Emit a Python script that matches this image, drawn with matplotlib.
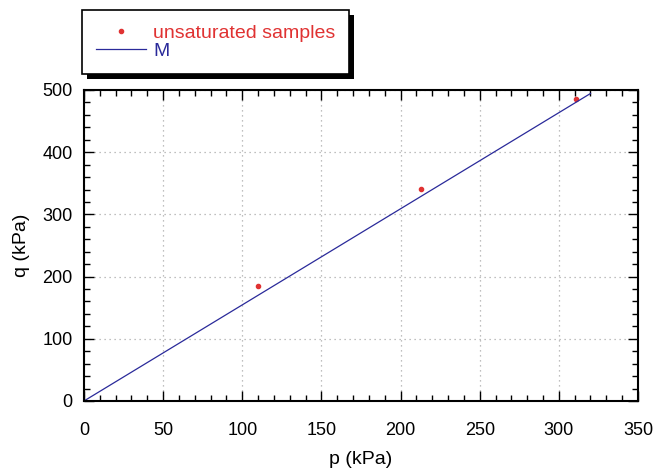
import numpy as np
import matplotlib.pyplot as plt
from matplotlib.ticker import MultipleLocator
from matplotlib.patches import Rectangle

plt.rcParams['font.family'] = ['Liberation Sans', 'DejaVu Sans']

# samples (p, q) in kPa
p_samples = [110, 213, 311]
q_samples = [185, 341, 486]
# critical state line q = M p
M = 1.545
p_line = [0, 320]
q_line = [M * p_line[0], M * p_line[1]]

red = '#e03232'
navy = '#2a2a9a'

fig = plt.figure(figsize=(6.53, 4.68), dpi=100)
ax = fig.add_axes([0.1286, 0.1432, 0.8484, 0.6645])

ax.plot(p_samples, q_samples, 'o', color=red, ms=3, label='unsaturated samples')
ax.plot(p_line, q_line, '-', color=navy, lw=0.9, label='M')

ax.set_xlim(0, 350)
ax.set_ylim(0, 500)
ax.xaxis.set_major_locator(MultipleLocator(50))
ax.xaxis.set_minor_locator(MultipleLocator(10))
ax.yaxis.set_major_locator(MultipleLocator(100))
ax.yaxis.set_minor_locator(MultipleLocator(20))
ax.tick_params(which='both', direction='in', top=True, right=True, labelsize=13)
ax.tick_params(axis='x', pad=15)
ax.tick_params(axis='y', pad=8)
ax.tick_params(which='major', length=7, width=1)
ax.tick_params(which='minor', length=4, width=1)
for s in ax.spines.values():
    s.set_linewidth(1.5)
ax.grid(True, which='major', linestyle=(0, (1, 3)), color='#aaaaaa', lw=0.9)

ax.set_xlabel('p (kPa)', fontsize=14, labelpad=8.5)
ax.set_ylabel('q (kPa)', fontsize=14, labelpad=9)

leg = fig.legend(loc='upper left', bbox_to_anchor=(0.126, 0.978), fontsize=14,
                 handlelength=2.6, handletextpad=0.35, borderpad=0.7, labelspacing=0.05,
                 borderaxespad=0, fancybox=False, edgecolor='black', framealpha=1)
leg.get_frame().set_linewidth(1.2)
for t, c in zip(leg.get_texts(), [red, navy]):
    t.set_color(c)

# black drop shadow behind the legend box
fig.canvas.draw()
bb = leg.get_window_extent().transformed(fig.transFigure.inverted())
dx, dy = 5 / 653, 5 / 468
shadow = Rectangle((bb.x0 + dx, bb.y0 - dy), bb.width, bb.height, transform=fig.transFigure,
                   facecolor='black', edgecolor='none', zorder=leg.get_zorder() - 0.1)
fig.add_artist(shadow)

fig.savefig('out.png', dpi=100)
